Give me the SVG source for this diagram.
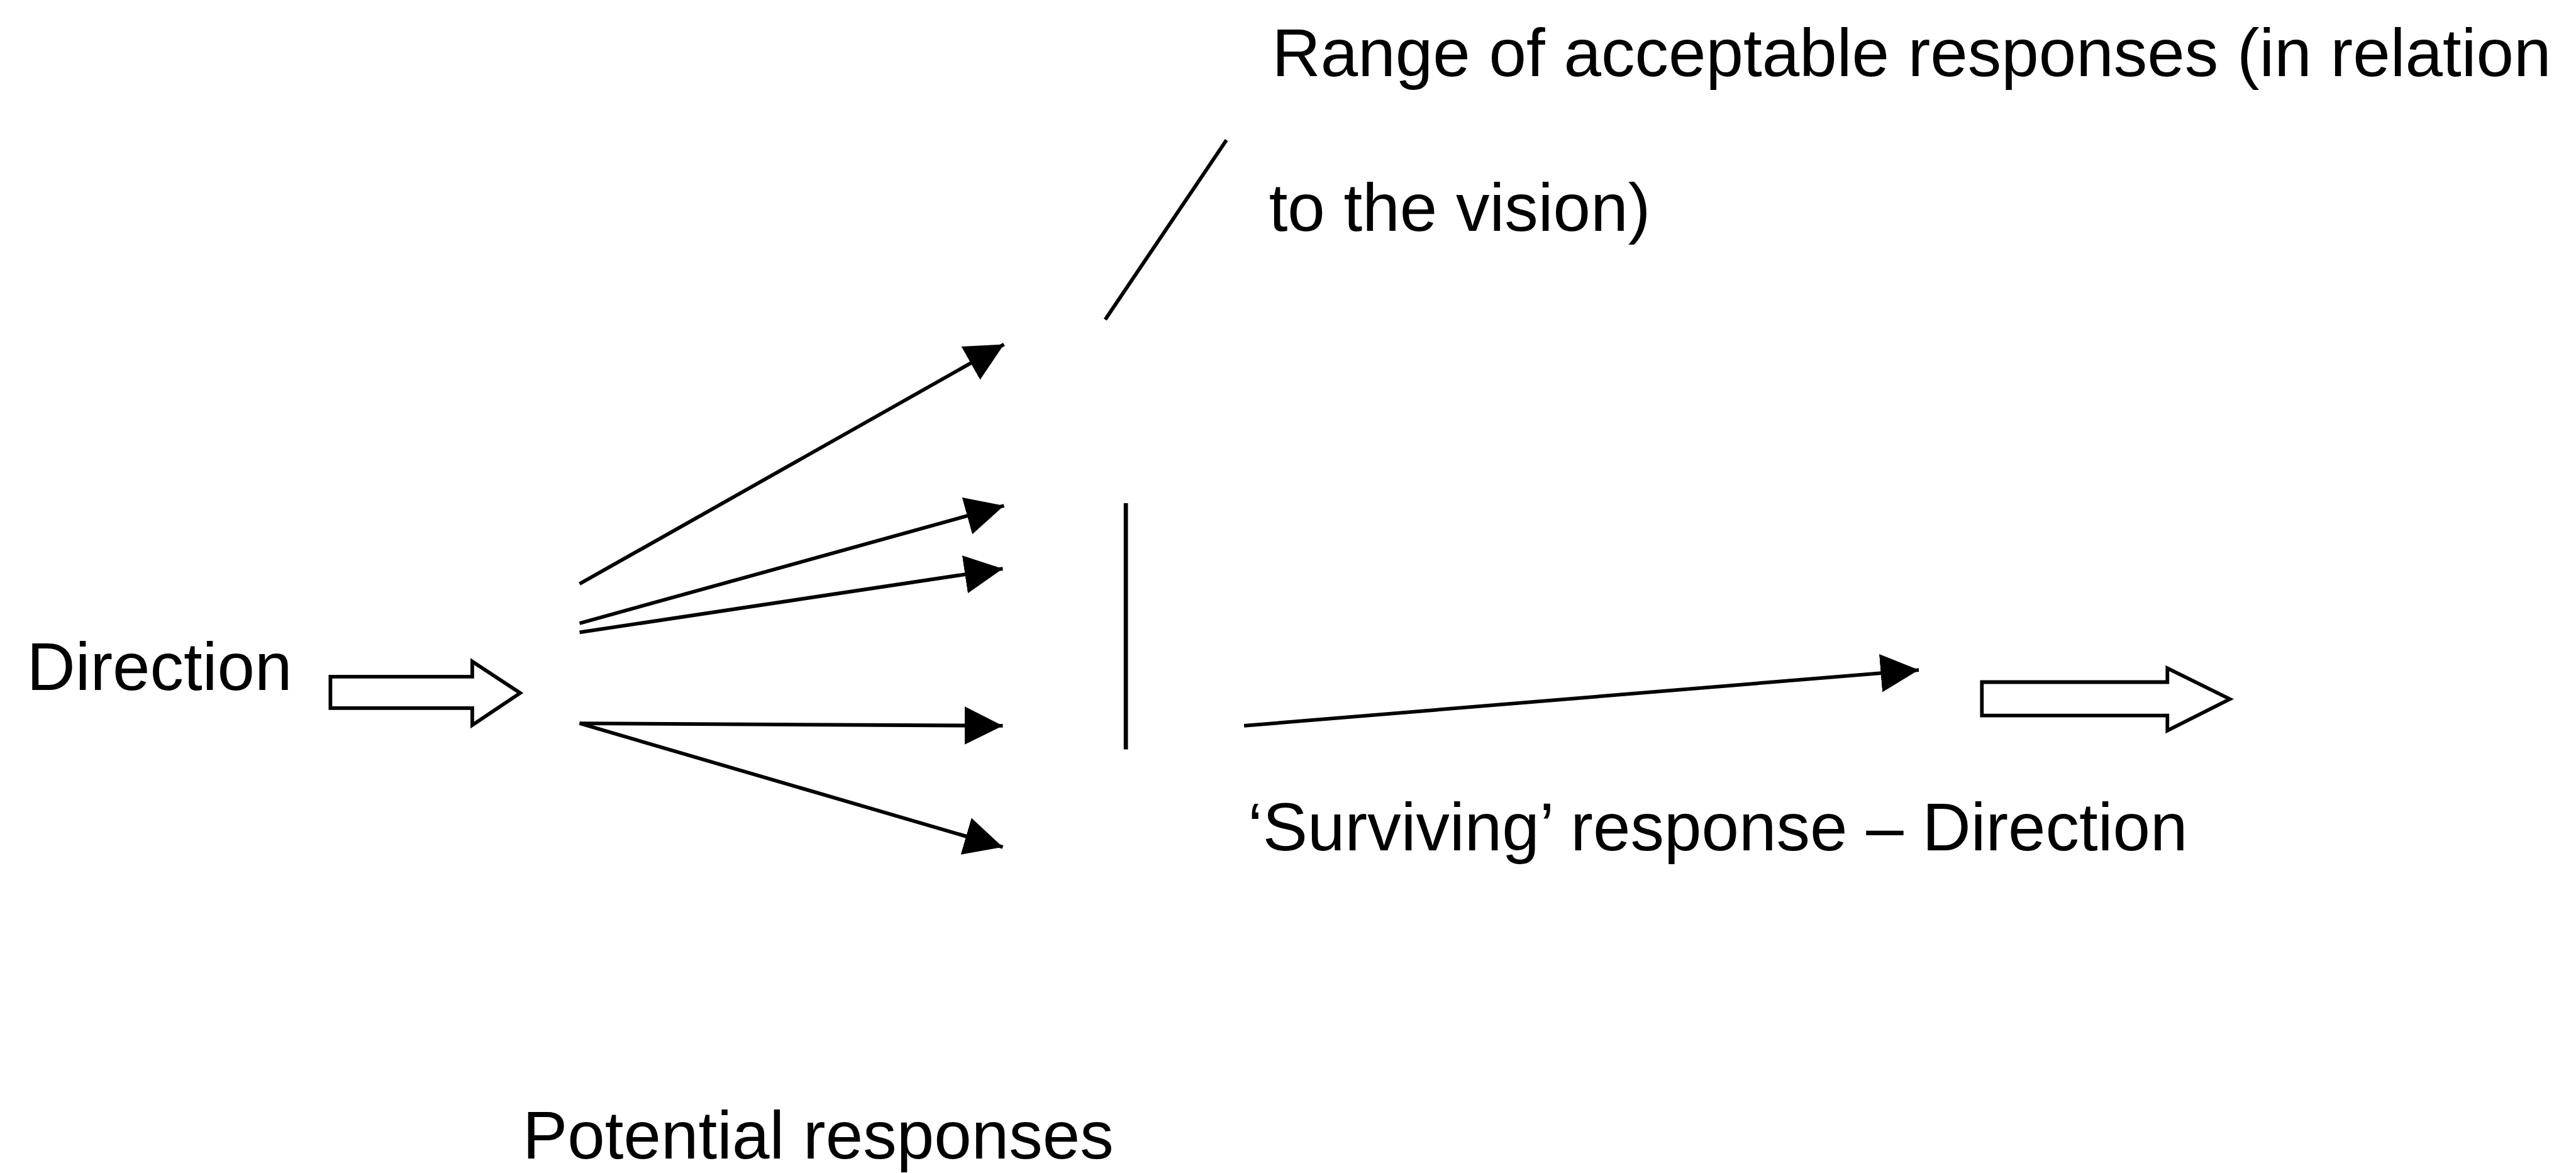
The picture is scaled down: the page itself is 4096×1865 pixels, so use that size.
<svg xmlns="http://www.w3.org/2000/svg" width="4096" height="1865" viewBox="0 0 4096 1865">
<style>
.t{font-family:"Liberation Sans",Arial,sans-serif;font-size:111px;fill:#000}
.c{stroke:#000;stroke-width:6;fill:none}
.h{stroke:#000;stroke-width:6;fill:#fff;stroke-linejoin:miter}
</style>
<defs>
<marker id="ah" markerUnits="userSpaceOnUse" markerWidth="64" markerHeight="64" refX="63" refY="31.5" orient="auto" viewBox="0 0 64 64">
<path d="M0,0 L63,31.5 L0,63 Z" fill="#000"/>
</marker>
</defs>
<rect width="4096" height="1865" fill="#fff"/>
<g transform="scale(0.964)">
<g id="label-direction"><text class="t" x="44" y="1138">Direction</text></g>
<g id="input-arrow"><path class="h" d="M545,1116 L779,1116 L779,1091 L858,1143 L779,1196 L779,1168 L545,1168 Z"/></g>
<g id="range-label">
<text class="t" x="2098" y="125" textLength="2110" lengthAdjust="spacingAndGlyphs">Range of acceptable responses (in relation</text>
<text class="t" x="2093" y="381">to the vision)</text>
</g>
<g id="barrier">
<line x1="2023" y1="231" x2="1823" y2="527" stroke="#000" stroke-width="6"/>
<line x1="1857" y1="830" x2="1857" y2="1236" stroke="#000" stroke-width="7"/>
</g>
<g id="surviving-label"><text class="t" x="2058" y="1403">‘Surviving’ response – Direction</text></g>
<g id="output-arrow"><path class="h" d="M3269,1125 L3575,1125 L3575,1102 L3678,1153 L3575,1205 L3575,1180 L3269,1180 Z"/></g>
<g id="potential-label"><text class="t" x="862" y="1911">Potential responses</text></g>
<g id="connectors">
<line class="c" x1="956" y1="963" x2="1656" y2="568" marker-end="url(#ah)"/>
<line class="c" x1="956" y1="1028" x2="1656" y2="834" marker-end="url(#ah)"/>
<line class="c" x1="956" y1="1043" x2="1654" y2="938" marker-end="url(#ah)"/>
<line class="c" x1="956" y1="1193" x2="1654" y2="1197" marker-end="url(#ah)"/>
<line class="c" x1="956" y1="1193" x2="1654" y2="1397" marker-end="url(#ah)"/>
<line class="c" x1="2052" y1="1197" x2="3165" y2="1105" marker-end="url(#ah)"/>
</g>
</g>
</svg>
